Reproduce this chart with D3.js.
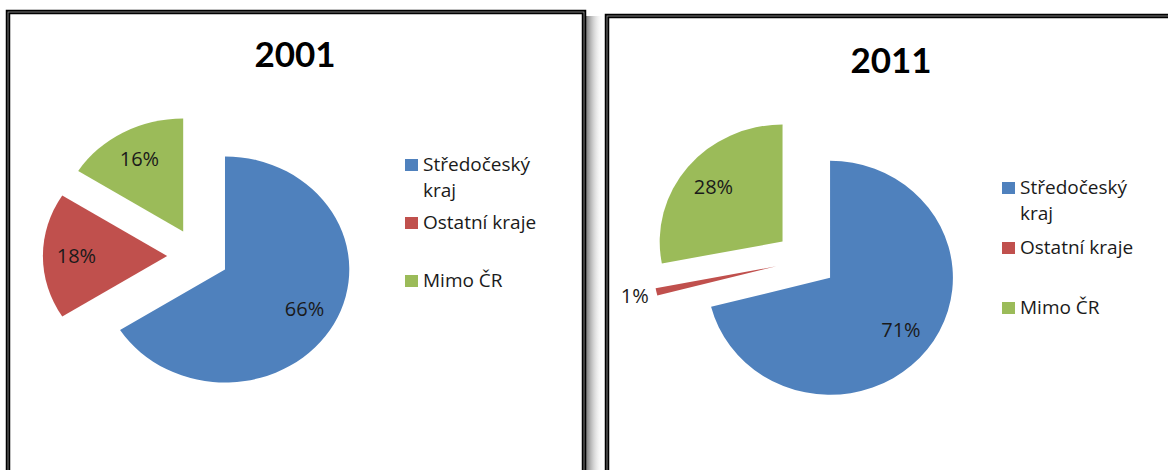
<!DOCTYPE html>
<html>
<head>
<meta charset="utf-8">
<script src="https://cdn.jsdelivr.net/npm/d3@7"></script>
<style>
  body { margin: 0; background: #fff; }
  svg { display: block; }
  .title { font-family: Lato, "Open Sans", sans-serif; font-weight: bold; font-size: 35px; fill: #000; }
  .pct { font-family: "Open Sans", sans-serif; font-size: 20px; fill: #1a1a1a; }
  .legend text { font-family: "Open Sans", sans-serif; font-size: 19px; fill: #1a1a1a; }
</style>
</head>
<body>
<div id="main-chart"></div>
<script>
var categories = ["Středočeský kraj", "Ostatní kraje", "Mimo ČR"];
var years = ["2001", "2011"];
var values2001 = [66, 18, 16];
var values2011 = [71, 1, 28];
var colors = ["#4F81BD", "#C0504D", "#9BBB59"];

var W = 1168, H = 470;

// layout of each panel (positions only)
var panels = [
  {x: 8, y: 12, w: 576, titleX: 295, titleY: 67, cx: 198, cy: 256, R: 113, sx: 1.1, explode: 28,
   legX: 405, legY: 171, legStep: 58, lineH: 26},
  {x: 607, y: 16, w: 600, titleX: 891, titleY: 73, cx: 806, cy: 260, R: 117, sx: 1.05, explode: 29,
   legX: 1002, legY: 194, legStep: 60, lineH: 26}
];
var seriesValues = [values2001, values2011];

var svg = d3.select("#main-chart")
  .append("svg")
    .attr("width", W)
    .attr("height", H);

// shadow between the panels
var grad = svg.append("defs").append("linearGradient")
    .attr("id", "shadow")
    .attr("x1", "0%").attr("x2", "100%");
grad.append("stop").attr("offset", "0%").attr("stop-color", "#7a7a7a");
grad.append("stop").attr("offset", "100%").attr("stop-color", "#fff").attr("stop-opacity", 0);
svg.append("rect")
    .attr("x", 586).attr("y", 16)
    .attr("width", 18).attr("height", H)
    .attr("fill", "url(#shadow)");

var pie = d3.pie().sort(null).value(function(d) { return d; });

panels.forEach(function(p, k) {
  var g = svg.append("g");

  // frame
  g.append("rect")
      .attr("x", p.x).attr("y", p.y)
      .attr("width", p.w).attr("height", H + 50)
      .attr("fill", "#fff")
      .attr("stroke", "#000")
      .attr("stroke-width", 4.5);
  g.append("rect")
      .attr("x", p.x).attr("y", p.y)
      .attr("width", p.w).attr("height", H + 50)
      .attr("fill", "none")
      .attr("stroke", "#9a9a9a")
      .attr("stroke-width", 0.8);

  // title
  g.append("text")
      .attr("class", "title")
      .attr("x", p.titleX)
      .attr("y", p.titleY)
      .attr("text-anchor", "middle")
      .text(years[k]);

  var arcs = pie(seriesValues[k]);
  var arc = d3.arc().innerRadius(0).outerRadius(p.R);

  // slices (drawn in a horizontally stretched group)
  var pg = g.append("g")
      .attr("transform", "translate(" + p.cx + "," + p.cy + ") scale(" + p.sx + ",1)");
  pg.selectAll("path")
    .data(arcs)
    .enter().append("path")
      .attr("d", arc)
      .attr("fill", function(d, i) { return colors[i]; })
      .attr("transform", function(d) {
        var m = (d.startAngle + d.endAngle) / 2;
        return "translate(" + (p.explode * Math.sin(m)) + "," + (-p.explode * Math.cos(m)) + ")";
      });

  // percent labels
  function labelPos(d) {
    var r = p.explode + (d.value < 5 ? 1.18 : 0.73) * p.R;
    var c = d3.arc().innerRadius(r).outerRadius(r).centroid(d);
    return [p.cx + c[0] * p.sx, p.cy + c[1]];
  }
  g.selectAll(".pct")
    .data(arcs)
    .enter().append("text")
      .attr("class", "pct")
      .attr("text-anchor", "middle")
      .attr("dy", "0.35em")
      .attr("x", function(d) { return labelPos(d)[0]; })
      .attr("y", function(d) { return labelPos(d)[1]; })
      .text(function(d) { return d.value + "%"; });

  // legend
  var leg = g.append("g").attr("class", "legend");
  var items = leg.selectAll("g")
    .data(categories)
    .enter().append("g");
  items.append("rect")
      .attr("x", p.legX)
      .attr("y", function(d, i) { return p.legY + i * p.legStep - 12; })
      .attr("width", 13).attr("height", 12)
      .attr("fill", function(d, i) { return colors[i]; });
  items.append("text")
      .attr("x", p.legX + 18)
      .attr("y", function(d, i) { return p.legY + i * p.legStep; })
      .each(function(d) {
        var t = d3.select(this);
        var words = d.split(" ");
        var line = [];
        var ts = t.append("tspan").attr("x", p.legX + 18);
        words.forEach(function(w) {
          line.push(w);
          ts.text(line.join(" "));
          if (ts.node().getComputedTextLength() > 135 && line.length > 1) {
            line.pop();
            ts.text(line.join(" "));
            line = [w];
            ts = t.append("tspan").attr("x", p.legX + 18).attr("dy", p.lineH).text(w);
          }
        });
      });
});
</script>
</body>
</html>
